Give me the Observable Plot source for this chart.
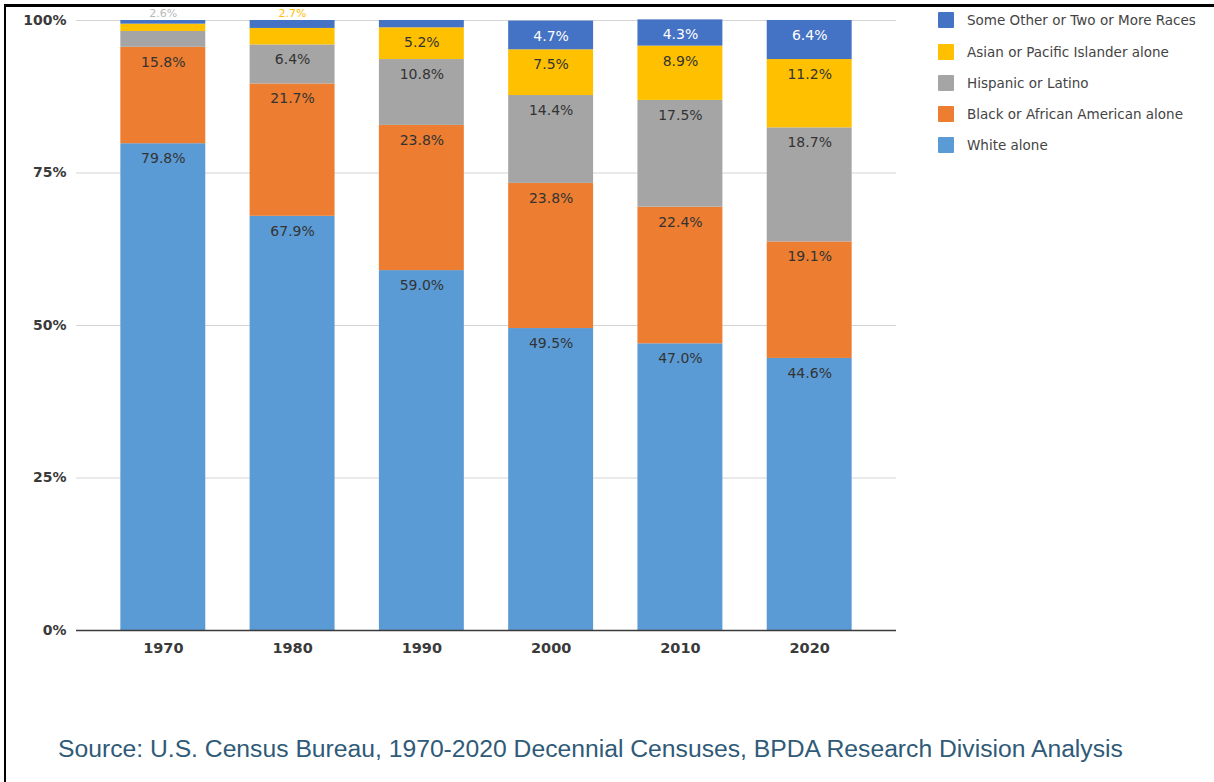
<!DOCTYPE html>
<html><head><meta charset="utf-8">
<script src="https://cdn.jsdelivr.net/npm/d3@7"></script>
<script src="https://cdn.jsdelivr.net/npm/@observablehq/plot@0.6"></script>
<style>
body{margin:0;background:#fff;}
#wrap{position:relative;width:1214px;height:782px;overflow:hidden;background:#fff;}
#chart{position:absolute;left:0;top:0;}
#mask{position:absolute;left:0;top:0;width:1214px;height:4px;background:#fff;}
#frameT{position:absolute;left:4px;top:4px;width:1210px;height:3px;background:#000;}
#frameL{position:absolute;left:4px;top:4px;width:2px;height:780px;background:#000;}
#legend{position:absolute;left:938px;top:0;font-family:"DejaVu Sans",sans-serif;font-size:13.5px;color:#444;}
.item{position:absolute;left:0;height:16px;white-space:nowrap;}
.sw{position:absolute;left:0;top:0;width:16px;height:16px;border-radius:1px;}
.lt{position:absolute;left:29px;top:0;line-height:16px;}
#source{position:absolute;left:58px;top:735px;font-family:"Liberation Sans",Arial,sans-serif;font-size:24.7px;color:#2f5a78;white-space:nowrap;}
</style></head>
<body>
<div id="wrap">
  <div id="chart"></div>
  <div id="mask"></div>
  <div id="frameT"></div>
  <div id="frameL"></div>
  <div id="legend"></div>
  <div id="source">Source: U.S. Census Bureau, 1970-2020 Decennial Censuses, BPDA Research Division Analysis</div>
</div>
<script>
const years = ["1970", "1980", "1990", "2000", "2010", "2020"];
const categories = ["White alone", "Black or African American alone", "Hispanic or Latino", "Asian or Pacific Islander alone", "Some Other or Two or More Races"];
const white    = [79.8, 67.9, 59.0, 49.5, 47.0, 44.6];
const black    = [15.8, 21.7, 23.8, 23.8, 22.4, 19.1];
const hispanic = [2.6, 6.4, 10.8, 14.4, 17.5, 18.7];
const asian    = [1.2, 2.7, 5.2, 7.5, 8.9, 11.2];
const other    = [0.6, 1.3, 1.2, 4.7, 4.3, 6.4];
const colors   = ["#5B9BD5", "#ED7D31", "#A5A5A5", "#FFC000", "#4472C4"];
const yTicks   = [0, 0.25, 0.5, 0.75, 1];
const legendOrder = ["Some Other or Two or More Races", "Asian or Pacific Islander alone", "Hispanic or Latino", "Black or African American alone", "White alone"];

const series = [white, black, hispanic, asian, other];
const data = [];
years.forEach((yr, i) => {
  categories.forEach((c, j) => {
    data.push({year: yr, category: c, value: series[j][i] / 100, pct: series[j][i]});
  });
});
const inside = d => d.pct >= 4;
const outside = d => d.pct >= 2 && d.pct < 4;
const colorOf = c => colors[categories.indexOf(c)];
const outsideColor = c => c === categories[2] ? "#b8b8b8" : colorOf(c);

const chart = Plot.plot({
  width: 1214,
  height: 680,
  marginLeft: 76,
  marginRight: 318,
  marginTop: 20,
  marginBottom: 50,
  style: {fontFamily: "DejaVu Sans, sans-serif", background: "transparent", overflow: "visible"},
  x: {type: "band", domain: years, padding: 0.343, round: false, label: null},
  y: {domain: [0, 1], label: null},
  color: {domain: categories, range: colors},
  marks: [
    Plot.gridY(yTicks.filter(t => t > 0), {stroke: "#d4d4d4", strokeOpacity: 1, strokeWidth: 1}),
    Plot.barY(data, {x: "year", y: "value", fill: "category", order: categories, inset: 0}),
    Plot.ruleY([0], {stroke: "#3a3a3a", strokeWidth: 1.6}),
    Plot.text(data, Plot.stackY2({
      x: "year", y: "value", z: "category", order: categories,
      text: d => inside(d) ? d.pct.toFixed(1) + "%" : "",
      fill: d => d.category === categories[4] ? "#ffffff" : "#333333",
      dy: 15, fontSize: 14
    })),
    Plot.text(data.filter(outside), {
      x: "year", y: () => 1, text: d => d.pct.toFixed(1) + "%",
      fill: d => outsideColor(d.category), dy: -7.5, fontSize: 11
    }),
    Plot.axisY({ticks: yTicks, tickFormat: d3.format(".0%"), tickSize: 0, tickPadding: 10, fontSize: 14, fontWeight: "bold", fill: "#3a3a3a", label: null}),
    Plot.axisX({tickSize: 0, tickPadding: 12, fontSize: 14.5, fontWeight: "bold", fill: "#3a3a3a", label: null})
  ]
});
document.getElementById("chart").appendChild(chart);

const legend = document.getElementById("legend");
const legendY = [12, 43.5, 74.5, 105.5, 136.5];
legendOrder.forEach((c, i) => {
  const it = document.createElement("div");
  it.className = "item";
  it.style.top = legendY[i] + "px";
  it.innerHTML = `<div class="sw" style="background:${colorOf(c)}"></div><div class="lt">${c}</div>`;
  legend.appendChild(it);
});
</script>
</body></html>
